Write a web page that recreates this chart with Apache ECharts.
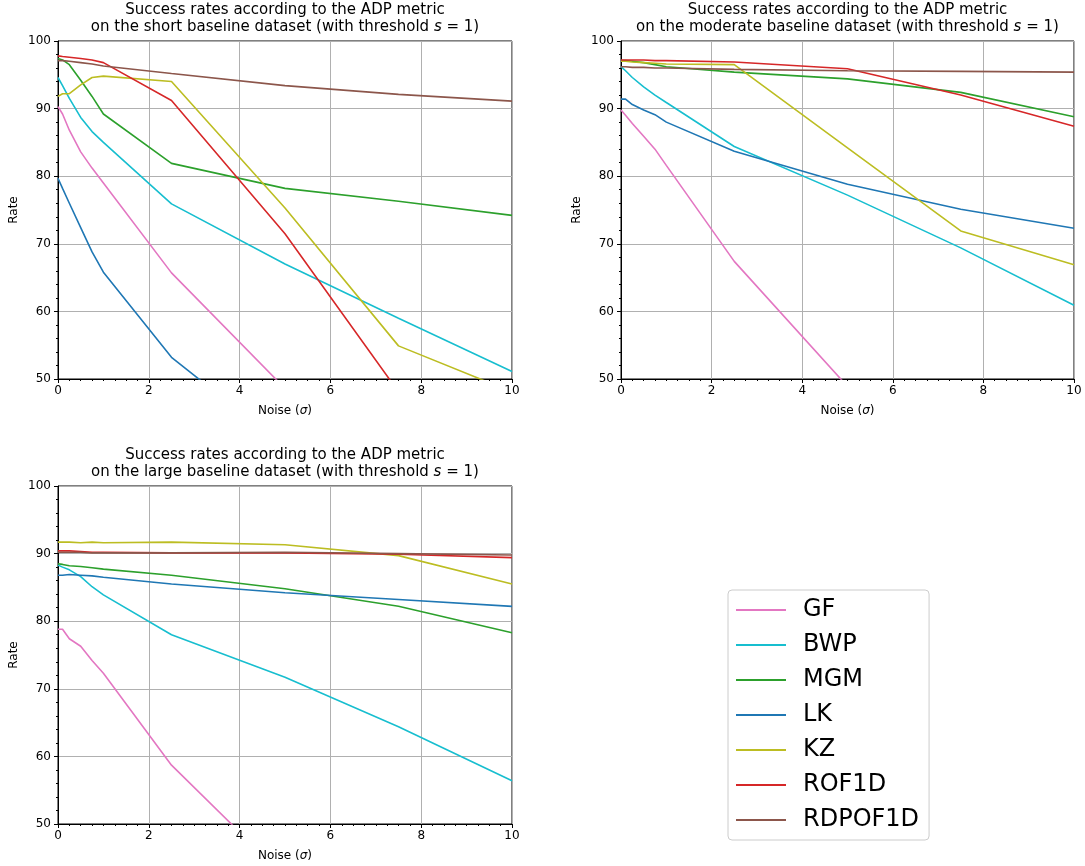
<!DOCTYPE html>
<html>
<head>
<meta charset="utf-8">
<script src="https://cdn.jsdelivr.net/npm/echarts@6/dist/echarts.min.js"></script>
<style>
  html, body { margin: 0; padding: 0; background: #fff; }
  #chart { width: 1085px; height: 866px; }
</style>
</head>
<body>
<div id="chart"></div>
<script>
// noise levels (sigma) where each method was evaluated
const noise = [0, 0.1, 0.25, 0.5, 0.75, 1, 2.5, 5, 7.5, 10];

const names = ['GF', 'BWP', 'MGM', 'LK', 'KZ', 'ROF1D', 'RDPOF1D'];
const colors = ['#e377c2', '#17becf', '#2ca02c', '#1f77b4', '#bcbd22', '#d62728', '#8c564b'];

// short baseline
const gfShort  = [90.3, 89.2, 86.8, 83.6, 81.2, 79.0, 65.7, 48.6, 35.0, 25.0];
const bwpShort = [94.6, 93.4, 91.5, 88.7, 86.6, 85.0, 75.9, 67.0, 59.0, 51.1];
const mgmShort = [97.4, 97.2, 96.5, 94.2, 91.8, 89.2, 81.9, 78.2, 76.3, 74.2];
const lkShort  = [79.7, 78.2, 76.0, 72.4, 68.8, 65.8, 53.2, 39.9, 30.0, 22.0];
const kzShort  = [91.8, 92.2, 92.2, 93.5, 94.6, 94.8, 94.0, 75.3, 54.9, 48.1];
const rofShort = [97.8, 97.7, 97.6, 97.4, 97.2, 96.8, 91.2, 71.5, 48.1, 30.0];
const rdpShort = [97.1, 97.1, 97.0, 96.8, 96.6, 96.3, 95.2, 93.4, 92.1, 91.1];

// moderate baseline
const gfMod  = [89.8, 89.0, 87.8, 85.9, 84.0, 81.6, 67.4, 48.9, 35.0, 25.0];
const bwpMod = [96.2, 95.6, 94.6, 93.2, 92.0, 90.9, 84.4, 77.2, 69.4, 60.9];
const mgmMod = [97.1, 97.1, 97.0, 96.8, 96.5, 96.2, 95.4, 94.4, 92.4, 88.8];
const lkMod  = [91.4, 91.4, 90.6, 89.8, 89.1, 88.0, 83.7, 78.8, 75.1, 72.3];
const kzMod  = [97.0, 97.0, 96.9, 96.8, 96.7, 96.6, 96.5, 84.2, 71.9, 66.9];
const rofMod = [97.2, 97.2, 97.2, 97.2, 97.1, 97.1, 96.9, 95.9, 92.0, 87.4];
const rdpMod = [96.2, 96.2, 96.1, 96.1, 96.0, 96.0, 95.8, 95.6, 95.5, 95.4];

// large baseline
const gfLarge  = [78.8, 78.8, 77.4, 76.3, 74.2, 72.3, 58.7, 42.2, 30.0, 20.0];
const bwpLarge = [88.3, 88.0, 87.6, 86.6, 85.1, 83.9, 78.0, 71.7, 64.4, 56.4];
const mgmLarge = [88.5, 88.4, 88.2, 88.1, 87.9, 87.7, 86.8, 84.8, 82.2, 78.3];
const lkLarge  = [86.8, 86.8, 86.9, 86.8, 86.7, 86.5, 85.5, 84.2, 83.2, 82.2];
const kzLarge  = [91.7, 91.7, 91.7, 91.6, 91.7, 91.6, 91.7, 91.3, 89.7, 85.5];
const rofLarge = [90.4, 90.4, 90.4, 90.3, 90.2, 90.2, 90.1, 90.1, 89.9, 89.4];
const rdpLarge = [90.2, 90.2, 90.2, 90.2, 90.1, 90.1, 90.1, 90.2, 90.0, 89.8];

const panels = [
  { label: 'short',    data: [gfShort, bwpShort, mgmShort, lkShort, kzShort, rofShort, rdpShort] },
  { label: 'moderate', data: [gfMod, bwpMod, mgmMod, lkMod, kzMod, rofMod, rdpMod] },
  { label: 'large',    data: [gfLarge, bwpLarge, mgmLarge, lkLarge, kzLarge, rofLarge, rdpLarge] }
];

const font = 'DejaVu Sans';
const boxes = [
  { left: 58, top: 41, width: 454, height: 338 },
  { left: 621, top: 41, width: 453, height: 338 },
  { left: 58, top: 486, width: 454, height: 338 }
];

const myChart = echarts.init(document.getElementById('chart'));

const grid = [], xAxis = [], yAxis = [], title = [], series = [];
panels.forEach((p, i) => {
  const b = boxes[i];
  grid.push(Object.assign({ show: true, borderColor: '#000', borderWidth: 1, containLabel: false }, b));
  title.push({
    text: 'Success rates according to the ADP metric\non the ' + p.label + ' baseline dataset (with threshold {it|s} = 1)',
    left: b.left + b.width / 2,
    top: b.top - 39,
    padding: 0,
    textAlign: 'center',
    textStyle: {
      fontFamily: font, fontSize: 15, fontWeight: 'normal', color: '#000', lineHeight: 17,
      rich: { it: { fontStyle: 'italic', fontFamily: font, fontSize: 15 } }
    }
  });
  xAxis.push({
    gridIndex: i, type: 'value', min: 0, max: 10, interval: 2,
    name: 'Noise ({it|σ})', nameLocation: 'middle', nameGap: 26,
    nameTextStyle: { fontFamily: font, fontSize: 12, color: '#000',
      rich: { it: { fontStyle: 'italic', fontFamily: font, fontSize: 12 } } },
    axisLine: { lineStyle: { color: '#000', width: 1 } },
    axisTick: { show: true, length: 4, lineStyle: { color: '#000' } },
    minorTick: { show: true, splitNumber: 8, length: 2, lineStyle: { color: '#000' } },
    axisLabel: { fontFamily: font, fontSize: 12, color: '#000', margin: 6 },
    splitLine: { show: true, lineStyle: { color: '#b0b0b0', width: 1 } }
  });
  yAxis.push({
    gridIndex: i, type: 'value', min: 50, max: 100, interval: 10,
    name: 'Rate', nameLocation: 'middle', nameGap: 38, nameRotate: 90,
    nameTextStyle: { fontFamily: font, fontSize: 12, color: '#000' },
    axisLine: { show: true, lineStyle: { color: '#000', width: 1 } },
    axisTick: { show: true, length: 4, lineStyle: { color: '#000' } },
    minorTick: { show: true, splitNumber: 5, length: 2, lineStyle: { color: '#000' } },
    axisLabel: { fontFamily: font, fontSize: 12, color: '#000', margin: 7 },
    splitLine: { show: true, lineStyle: { color: '#b0b0b0', width: 1 } }
  });
  p.data.forEach((vals, k) => {
    series.push({
      name: names[k],
      type: 'line',
      xAxisIndex: i, yAxisIndex: i,
      data: noise.map((x, j) => [x, vals[j]]),
      showSymbol: false, symbol: 'none',
      clip: true,
      color: colors[k],
      lineStyle: { width: 1.6, color: colors[k] },
      animation: false
    });
  });
});

const option = {
  animation: false,
  title: title,
  grid: grid,
  xAxis: xAxis,
  yAxis: yAxis,
  legend: {
    data: names,
    orient: 'vertical',
    left: 728, top: 590,
    padding: [8, 10, 8, 8],
    itemGap: 11,
    itemWidth: 50,
    itemHeight: 2,
    icon: 'rect',
    borderColor: '#cccccc', borderWidth: 1, borderRadius: 4,
    selectedMode: false,
    textStyle: { fontFamily: font, fontSize: 24, lineHeight: 22, color: '#000', padding: [0, 0, 0, 12] }
  },
  series: series
};

myChart.setOption(option);
</script>
</body>
</html>
